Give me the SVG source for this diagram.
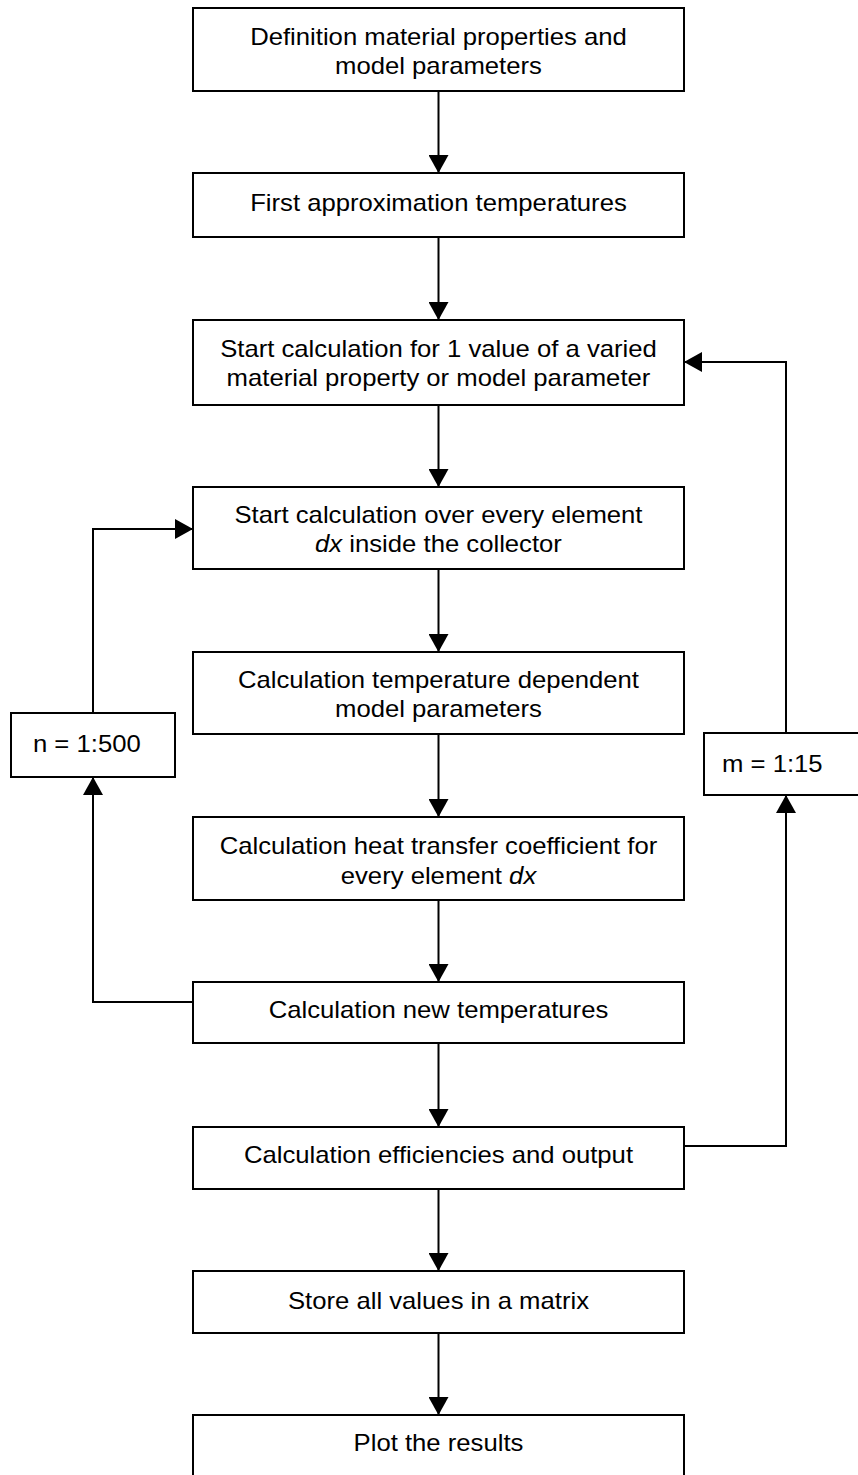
<svg xmlns="http://www.w3.org/2000/svg" width="858" height="1475" viewBox="0 0 858 1475">
<style>
.box{fill:#fff;stroke:#000;stroke-width:2}
.t{font-family:"Liberation Sans",Arial,sans-serif;font-size:24px;fill:#000;text-anchor:middle}
.tl{font-family:"Liberation Sans",Arial,sans-serif;font-size:24px;fill:#000}
.c{fill:none;stroke:#000;stroke-width:2}
.i{font-style:italic}
</style>
<defs>
<marker id="ah" markerUnits="userSpaceOnUse" markerWidth="18" markerHeight="20" refX="18" refY="10" orient="auto">
<path d="M0,0 L18,10 L0,20 Z" fill="#000"/>
</marker>
</defs>
<rect width="858" height="1475" fill="#fff"/>
<g id="connectors">
<path class="c" d="M438.5,91 V173" marker-end="url(#ah)"/>
<path class="c" d="M438.5,237 V320" marker-end="url(#ah)"/>
<path class="c" d="M438.5,405 V487" marker-end="url(#ah)"/>
<path class="c" d="M438.5,569 V652" marker-end="url(#ah)"/>
<path class="c" d="M438.5,734 V817" marker-end="url(#ah)"/>
<path class="c" d="M438.5,900 V982" marker-end="url(#ah)"/>
<path class="c" d="M438.5,1043 V1127" marker-end="url(#ah)"/>
<path class="c" d="M438.5,1189 V1271" marker-end="url(#ah)"/>
<path class="c" d="M438.5,1333 V1415" marker-end="url(#ah)"/>
<path class="c" d="M193,1002 H93 V777" marker-end="url(#ah)"/>
<path class="c" d="M93,713 V529 H193" marker-end="url(#ah)"/>
<path class="c" d="M684,1146 H786 V795" marker-end="url(#ah)"/>
<path class="c" d="M786,733 V362 H684" marker-end="url(#ah)"/>
</g>
<g id="n1"><rect class="box" x="193" y="8" width="491" height="83"/>
<text class="t" transform="scale(1.07 1)" x="409.8" y="45">Definition material properties and</text>
<text class="t" transform="scale(1.07 1)" x="409.8" y="74">model parameters</text></g>
<g id="n2"><rect class="box" x="193" y="173" width="491" height="64"/>
<text class="t" transform="scale(1.07 1)" x="409.8" y="211">First approximation temperatures</text></g>
<g id="n3"><rect class="box" x="193" y="320" width="491" height="85"/>
<text class="t" transform="scale(1.07 1)" x="409.8" y="357">Start calculation for 1 value of a varied</text>
<text class="t" transform="scale(1.07 1)" x="409.8" y="386">material property or model parameter</text></g>
<g id="n4"><rect class="box" x="193" y="487" width="491" height="82"/>
<text class="t" transform="scale(1.07 1)" x="409.8" y="523">Start calculation over every element</text>
<text class="t" transform="scale(1.07 1)" x="409.8" y="552"><tspan class="i">dx</tspan> inside the collector</text></g>
<g id="n5"><rect class="box" x="193" y="652" width="491" height="82"/>
<text class="t" transform="scale(1.07 1)" x="409.8" y="688">Calculation temperature dependent</text>
<text class="t" transform="scale(1.07 1)" x="409.8" y="717">model parameters</text></g>
<g id="n6"><rect class="box" x="193" y="817" width="491" height="83"/>
<text class="t" transform="scale(1.07 1)" x="409.8" y="854">Calculation heat transfer coefficient for</text>
<text class="t" transform="scale(1.07 1)" x="409.8" y="884">every element <tspan class="i">dx</tspan></text></g>
<g id="n7"><rect class="box" x="193" y="982" width="491" height="61"/>
<text class="t" transform="scale(1.07 1)" x="409.8" y="1018">Calculation new temperatures</text></g>
<g id="n8"><rect class="box" x="193" y="1127" width="491" height="62"/>
<text class="t" transform="scale(1.07 1)" x="409.8" y="1163">Calculation efficiencies and output</text></g>
<g id="n9"><rect class="box" x="193" y="1271" width="491" height="62"/>
<text class="t" transform="scale(1.07 1)" x="409.8" y="1309">Store all values in a matrix</text></g>
<g id="n10"><rect class="box" x="193" y="1415" width="491" height="80"/>
<text class="t" transform="scale(1.07 1)" x="409.8" y="1451">Plot the results</text></g>
<g id="nloop"><rect class="box" x="11" y="713" width="164" height="64"/>
<text class="tl" transform="scale(1.07 1)" x="30.8" y="752">n = 1:500</text></g>
<g id="mloop"><rect class="box" x="704" y="733" width="170" height="62"/>
<text class="tl" transform="scale(1.07 1)" x="674.8" y="772">m = 1:15</text></g>
</svg>
